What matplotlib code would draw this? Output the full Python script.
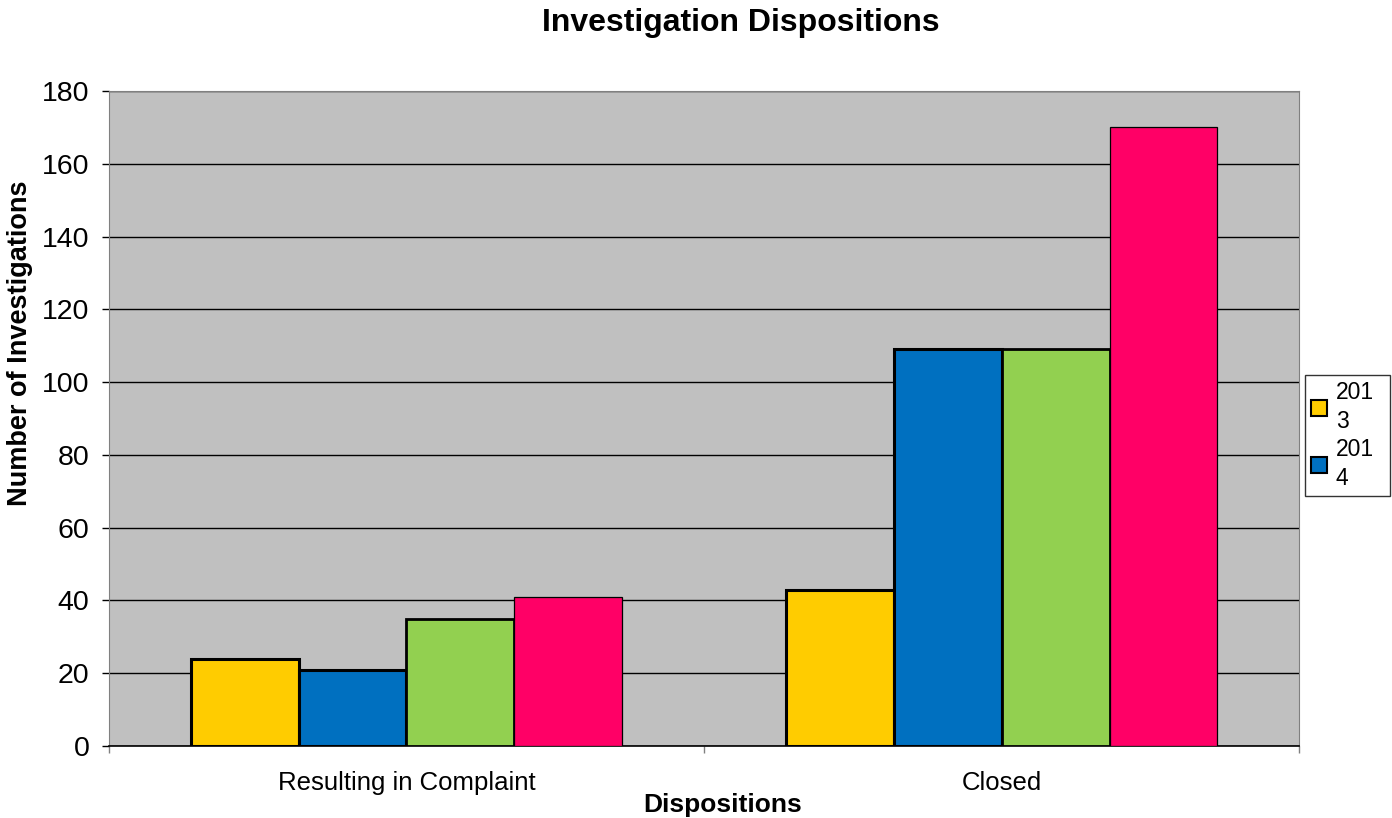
import matplotlib
matplotlib.use('Agg')

import matplotlib.pyplot as plt
from matplotlib.patches import Patch
import numpy as np

plt.rcParams['font.family'] = ['Liberation Sans', 'DejaVu Sans']

categories = ['Resulting in Complaint', 'Closed']
years = ['2013', '2014', '2015', '2016']
counts = {
    '2013': [24, 43],
    '2014': [21, 109],
    '2015': [35, 109],
    '2016': [41, 170],
}
colors = ['#FFCC00', '#0070C0', '#92D050', '#FF0066']
edge_widths = [2.2, 2.2, 2.0, 0.9]

fig = plt.figure(figsize=(13.92, 8.18), dpi=100)
ax = fig.add_axes([0.0783, 0.0880, 0.8549, 0.8008])
ax.set_facecolor('#C0C0C0')

x = np.arange(len(categories))
width = 0.1815
for i, yr in enumerate(years):
    offset = (i - 1.5) * width
    ax.bar(x + offset, counts[yr], width, color=colors[i],
           edgecolor='black', linewidth=edge_widths[i], zorder=3)

ax.set_xlim(-0.5, 1.5)
ax.set_ylim(0, 180)
ax.set_yticks(range(0, 181, 20))
ax.yaxis.grid(True, color='black', linewidth=1.0, zorder=1)
ax.set_axisbelow(True)

# category boundaries get tick marks, labels sit at centers
ax.set_xticks([-0.5, 0.5, 1.5])
ax.set_xticklabels(['', '', ''])
ax.set_xticks(x, minor=True)
ax.set_xticklabels(categories, minor=True)
ax.tick_params(axis='x', which='major', length=5, width=1, color='#808080', direction='out')
ax.tick_params(axis='x', which='minor', length=0, pad=18, labelsize=18.5)
ax.tick_params(axis='y', length=5, width=1, direction='out', labelsize=20.5, pad=9)

for side in ['left', 'top', 'right']:
    ax.spines[side].set_color('#808080')
ax.spines['bottom'].set_color('black')
ax.spines['bottom'].set_linewidth(1.2)

ax.set_xlabel('Dispositions', fontsize=19, fontweight='bold', va='top')
ax.xaxis.set_label_coords(0.5155, -0.0715)
ax.set_ylabel('Number of Investigations', fontsize=19.5, fontweight='bold')
ax.yaxis.set_label_coords(-0.0639, 0.615)
fig.suptitle('Investigation Dispositions', fontsize=23, fontweight='bold', x=0.532, y=0.99)

handles = [Patch(facecolor=colors[i], edgecolor='black', linewidth=1.5) for i in range(2)]
labels = [yr[:3] + '\n' + yr[3:] for yr in years[:2]]
leg = ax.legend(handles, labels, loc='upper left', mode='expand',
                bbox_to_anchor=(1.005, 0.0, 0.0714, 0.5664),
                fontsize=16.5, frameon=True, fancybox=False, handlelength=0.7,
                handleheight=0.7, handletextpad=0.4, borderpad=0.25,
                labelspacing=0.25, borderaxespad=0)
leg.get_frame().set_edgecolor('black')
leg.get_frame().set_linewidth(1.0)
for t in leg.get_texts():
    t.set_linespacing(1.33)

fig.savefig('out.png', dpi=100)
